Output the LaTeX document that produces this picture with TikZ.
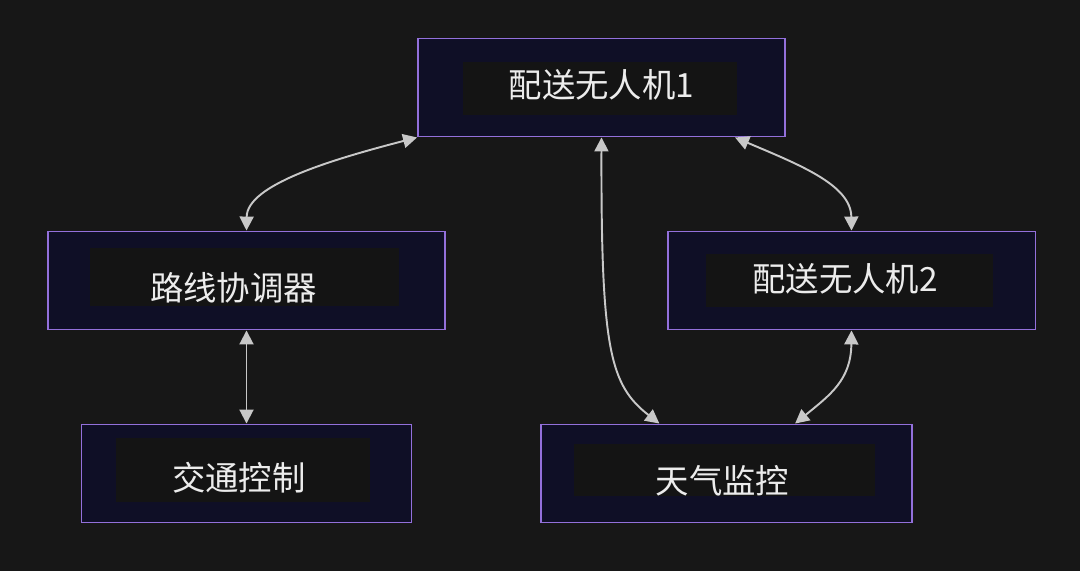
\documentclass[tikz,border=0pt]{standalone}
\usepackage{fontspec}
\setmainfont{Noto Sans CJK SC}
\usetikzlibrary{arrows.meta, calc}

\definecolor{bgcol}{HTML}{171717}
\definecolor{boxfill}{HTML}{0F0F26}
\definecolor{boxline}{HTML}{9370DB}
\definecolor{lblfill}{HTML}{141414}
\definecolor{linkcol}{HTML}{C8C8C8}
\definecolor{txtcol}{HTML}{ECECEC}

\begin{document}
\begin{tikzpicture}[x=0.02cm, y=-0.02cm,
    box/.style={draw=boxline, line width=1.1pt, fill=boxfill, minimum height=1.96cm, inner sep=0pt},
    lbl/.style={fill=lblfill, inner sep=0pt},
    txt/.style={text=txtcol, font=\fontsize{19pt}{22pt}\selectfont, anchor=base, inner sep=0pt},
    link/.style={draw=linkcol, line width=1.1pt, {Triangle[length=0.28cm,width=0.28cm]}-{Triangle[length=0.28cm,width=0.28cm]}}
  ]
  \fill[bgcol] (0,0) rectangle (1080,571);
  \useasboundingbox (0,0) rectangle (1080,571);

  % nodes
  \node[box, minimum width=7.34cm] (drone1) at (601.5,87.5) {};
  \node[lbl, minimum width=5.48cm, minimum height=1.06cm] (drone1bg) at (600,88.5) {};
  \node[txt] (drone1t) at (601.5,98) {配送无人机1};

  \node[box, minimum width=7.94cm] (router) at (246.5,280.5) {};
  \node[lbl, minimum width=6.2cm, minimum height=1.16cm] (routerbg) at (244.5,277) {};
  \node[txt] (routert) at (233.5,300) {路线协调器};

  \node[box, minimum width=7.36cm] (drone2) at (851.5,280.5) {};
  \node[lbl, minimum width=5.74cm, minimum height=1.06cm] (drone2bg) at (849.5,280.5) {};
  \node[txt] (drone2t) at (845,292) {配送无人机2};

  \node[box, minimum width=6.6cm] (traffic) at (246.5,473.5) {};
  \node[lbl, minimum width=5.08cm, minimum height=1.28cm] (trafficbg) at (243,470) {};
  \node[txt] (traffict) at (239,490) {交通控制};

  \node[box, minimum width=7.42cm] (weather) at (726.5,473.5) {};
  \node[lbl, minimum width=6.02cm, minimum height=1.04cm] (weatherbg) at (724.5,470) {};
  \node[txt] (weathert) at (722.5,493) {天气监控};

  % links
  \draw[link] (router.north) .. controls (247,185) and (330,160) .. (drone1.south west);
  \draw[link] (drone1.south) .. controls (601,350) and (610,385) .. ($(weather.north west)!0.32!(weather.north east)$);
  \draw[link] ($(drone1.south west)!0.862!(drone1.south east)$) .. controls (800,165) and (851,185) .. (drone2.north);
  \draw[link] (drone2.south) .. controls (851,380) and (830,395) .. ($(weather.north west)!0.684!(weather.north east)$);
  \draw[link] (router.south) -- (traffic.north);
\end{tikzpicture}
\end{document}
